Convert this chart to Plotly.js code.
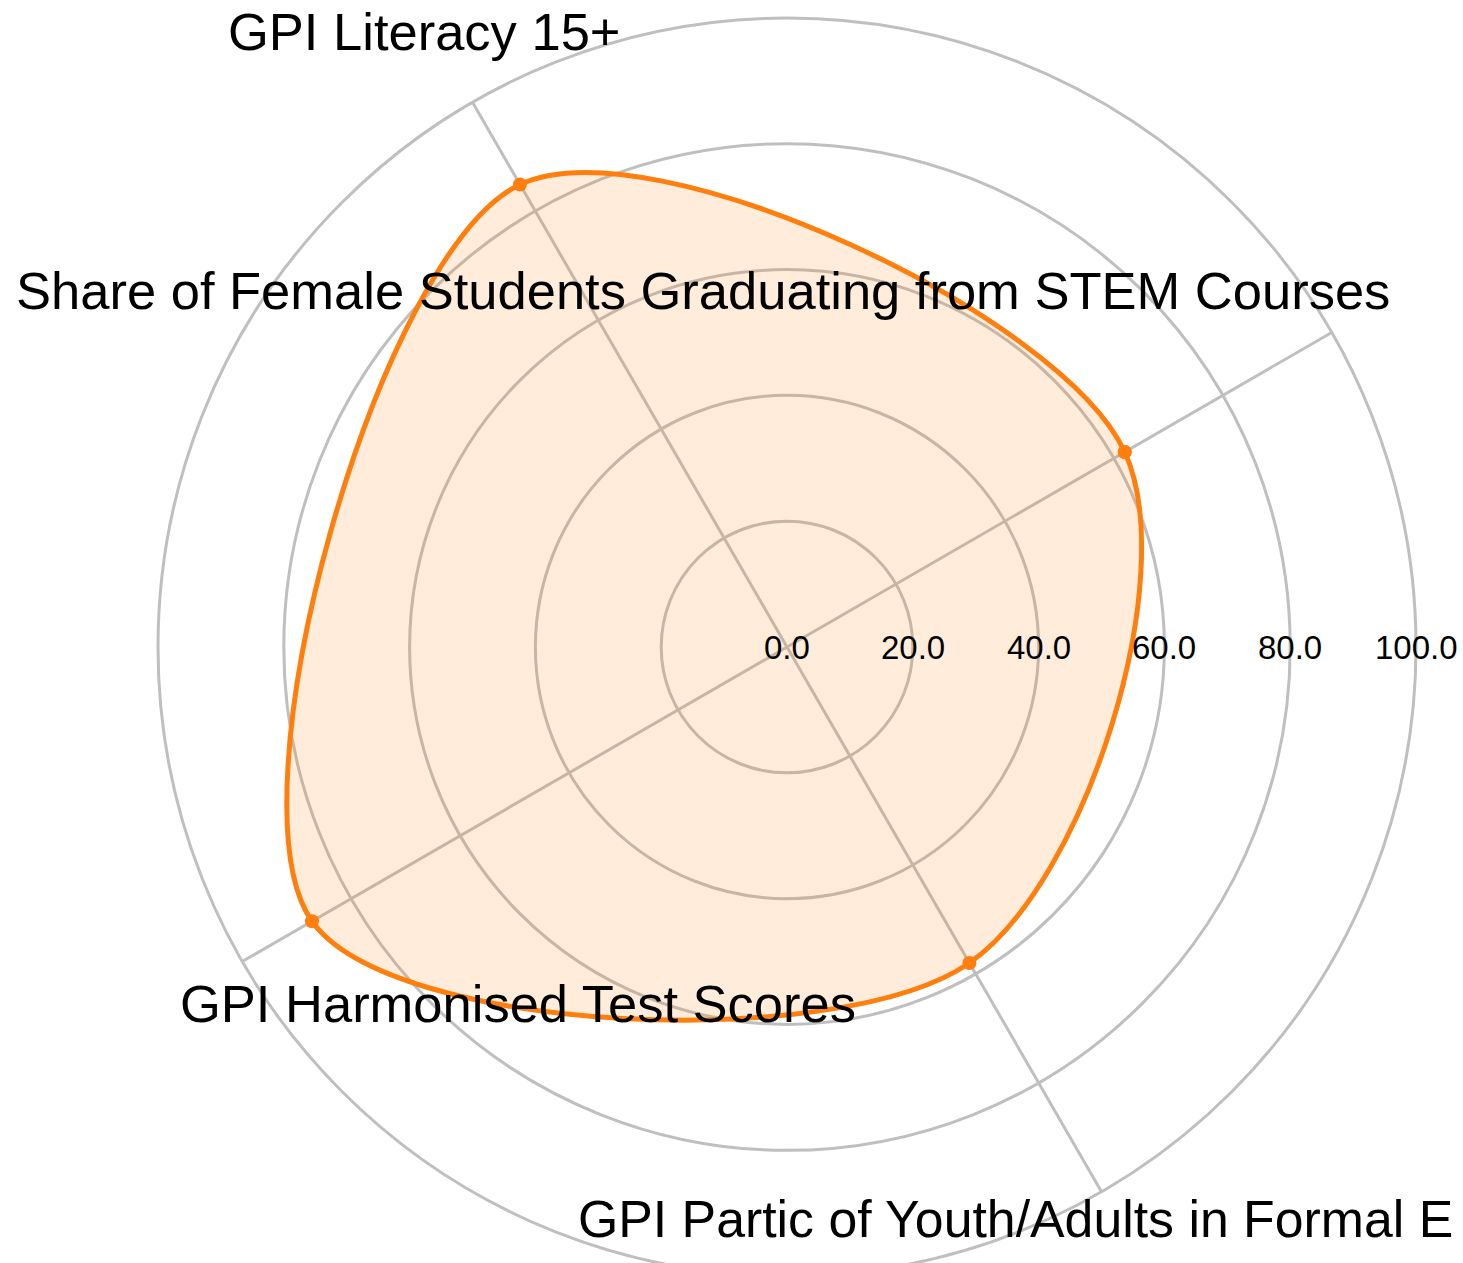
<!DOCTYPE html>
<html><head><meta charset="utf-8">
<script src="https://cdn.plot.ly/plotly-3.0.1.min.js"></script>
<style>
html,body{margin:0;padding:0;overflow:hidden;background:#fff;}
#wrap{width:1463px;height:1263px;overflow:hidden;position:relative;}
#chart{width:1463px;height:1300px;}
</style></head><body>
<div id="wrap"><div id="chart"></div></div>
<script>
const categories = [
  "Share of Female Students Graduating from STEM Courses",
  "GPI Literacy 15+",
  "GPI Harmonised Test Scores",
  "GPI Partic of Youth/Adults in Formal E"
];
const values = [62.0, 84.9, 87.2, 58.0];
const radialTicks = [0, 20, 40, 60, 80, 100];
const radialTickText = radialTicks.map(v => v.toFixed(1));

const W = 1463, H = 1300;
const FONT = "Liberation Sans, Arial, sans-serif";
const GRID = "#bfbfbf";
const DX = [158 / W, 1416 / W];
const DY = [24 / H, 1282 / H];

const trace = {
  type: "scatterpolar",
  theta: categories.concat([categories[0]]),
  r: values.concat([values[0]]),
  mode: "lines+markers",
  line: {color: "#ff7f0e", width: 5, shape: "spline", smoothing: 0.97},
  marker: {color: "#ff7f0e", size: 14},
  fill: "toself",
  fillcolor: "rgba(255,127,14,0.15)",
  hoverinfo: "skip"
};

function ann(text, xpx, ypx, size) {
  return {text: text, xref: "paper", yref: "paper", x: xpx / W, y: (H - ypx) / H,
    xanchor: "left", yanchor: "middle", showarrow: false,
    font: {family: FONT, size: size, color: "#000"}};
}

// radial tick labels placed along the 0-degree radius, centred on each ring
const rMax = 100;
const cx = (DX[0] + DX[1]) / 2, cy = (DY[0] + DY[1]) / 2;
const halfW = (DX[1] - DX[0]) / 2;
const tickAnns = radialTicks.map((v, i) => ({
  text: radialTickText[i], xref: "paper", yref: "paper",
  x: cx + halfW * v / rMax, y: cy, xanchor: "center", yanchor: "middle",
  showarrow: false, font: {family: FONT, size: 33, color: "#000"}
}));

const layout = {
  width: W, height: H,
  margin: {l: 0, r: 0, t: 0, b: 0},
  paper_bgcolor: "#fff",
  showlegend: false,
  font: {family: FONT, color: "#000"},
  polar: {
    domain: {x: DX, y: DY},
    bgcolor: "rgba(0,0,0,0)",
    radialaxis: {
      range: [0, rMax], tickvals: radialTicks,
      angle: 0, showline: false, ticks: "", showticklabels: false,
      gridcolor: GRID, gridwidth: 3
    },
    angularaxis: {
      type: "category", categoryarray: categories,
      rotation: 30, direction: "counterclockwise",
      showticklabels: false, ticks: "",
      showline: true, linecolor: GRID, linewidth: 3,
      gridcolor: GRID, gridwidth: 3
    }
  },
  annotations: [
    ann(categories[1], 226, 31, 52.5),
    ann(categories[0], 14, 290, 52.5),
    ann(categories[2], 178, 1003, 52.5),
    ann(categories[3], 576, 1219, 51.8)
  ].concat(tickAnns)
};

Plotly.newPlot("chart", [trace], layout, {displayModeBar: false, staticPlot: true});
</script>
</body></html>
